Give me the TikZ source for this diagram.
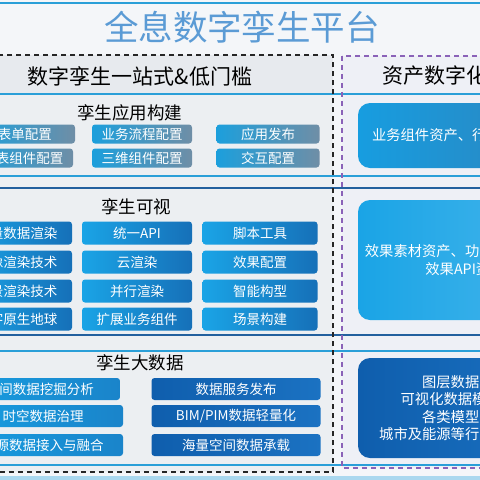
\documentclass[tikz,border=0pt]{standalone}
\usepackage{fontspec}
\setmainfont{Noto Sans CJK SC}
\usetikzlibrary{positioning}

\definecolor{titleblue}{HTML}{5B9BD5}
\definecolor{lineblue}{HTML}{2A9FD8}
\definecolor{linedark}{HTML}{22609E}
\definecolor{pagebg}{HTML}{F4F6F9}
\definecolor{panelbg}{HTML}{ECEFF2}
\definecolor{headbg}{HTML}{E7EAEE}
\definecolor{assetbg}{HTML}{EEF0F6}
\definecolor{dashpurple}{HTML}{8A62B8}
\definecolor{cyanA}{HTML}{1C9FDC}
\definecolor{slateA}{HTML}{6F8EA6}
\definecolor{cyanB}{HTML}{1AA4E6}
\definecolor{blueB}{HTML}{1670B8}
\definecolor{cyanC}{HTML}{179DE0}
\definecolor{blueC}{HTML}{1A84CA}
\definecolor{darkC}{HTML}{0F5EAD}
\definecolor{darkD}{HTML}{1B72C2}

\begin{document}
\begin{tikzpicture}[x=1pt, y=-1pt,
  btn/.style={rounded corners=3pt, inner sep=0pt, text=white, font=\fontsize{13.5}{15}\selectfont},
  appbtn/.style={btn, left color=cyanA, right color=slateA, minimum height=19pt},
  visbtn/.style={btn, left color=cyanB, right color=blueB, minimum height=23pt},
  databtn/.style={btn, left color=cyanC, right color=blueC, minimum height=22pt, minimum width=160pt},
  darkbtn/.style={btn, left color=darkC, right color=darkD, minimum height=22pt, minimum width=169pt},
  asset/.style={rounded corners=12pt, minimum width=214pt, inner sep=0pt, text=white, align=center, font=\fontsize{14.3}{17.5}\selectfont},
  sectitle/.style={font=\fontsize{17.5}{20}\selectfont},
  headtitle/.style={font=\fontsize{21}{24}\selectfont},
  bar/.style={line width=2pt, draw=lineblue},
  darkbar/.style={line width=2pt, draw=linedark},
  blackdash/.style={draw=black!85, line width=1.3pt, dash pattern=on 5pt off 4pt},
  purpledash/.style={draw=dashpurple, line width=1.3pt, dash pattern=on 5pt off 4pt},
]
  \useasboundingbox (0,0) rectangle (480,480);
  \clip (0,0) rectangle (480,480);

  % Backgrounds
  \fill[pagebg] (0,0) rectangle (480,480);
  \fill[headbg] (-60,55) rectangle (333,94);
  \fill[panelbg] (-60,94) rectangle (333,472);
  \fill[assetbg] (342,56) rectangle (560,468);
  \fill[lineblue!40] (0,476) rectangle (480,480);

  % Band lines
  \draw[bar] (0,3) -- (480,3);
  \draw[bar] (0,94) -- (480,94);
  \draw[bar] (0,176) -- (480,176);
  \draw[darkbar] (0,188) -- (480,188);
  \draw[darkbar] (0,335) -- (480,335);
  \draw[bar] (0,351) -- (480,351);
  \draw[bar] (0,465) -- (480,465);

  % Dashed frames
  \draw[blackdash] (-60,55) rectangle (333,472);
  \draw[purpledash] (342,56) rectangle (560,468);

  % Titles
  \node[text=titleblue, font=\fontsize{34.5}{38}\selectfont] (title) at (242,27) {全息数字孪生平台};
  \node[headtitle] (lowcode) at (140,76) {数字孪生一站式\&低门槛};
  \node[headtitle, anchor=west] (assets) at (379,76) {资产数字化};

  % Twin application building
  \node[sectitle] (app) at (130,113) {孪生应用构建};
  \node[appbtn, minimum width=100pt] (app11) at (25,134) {表单配置};
  \node[appbtn, minimum width=100pt] (app12) at (142,134) {业务流程配置};
  \node[appbtn, minimum width=103pt] (app13) at (268,134) {应用发布};
  \node[appbtn, minimum width=100pt] (app21) at (23,158) {图表组件配置};
  \node[appbtn, minimum width=100pt] (app22) at (142,158) {三维组件配置};
  \node[appbtn, minimum width=103pt] (app23) at (268,158) {交互配置};

  % Twin visualisation
  \node[sectitle] (vis) at (136,207) {孪生可视};
  \node[visbtn, minimum width=110pt] (vis11) at (17,233) {海量数据渲染};
  \node[visbtn, minimum width=110pt] (vis12) at (137,233) {统一API};
  \node[visbtn, minimum width=115pt] (vis13) at (260,233) {脚本工具};
  \node[visbtn, minimum width=110pt] (vis21) at (17,262) {影像渲染技术};
  \node[visbtn, minimum width=110pt] (vis22) at (137,262) {云渲染};
  \node[visbtn, minimum width=115pt] (vis23) at (260,262) {效果配置};
  \node[visbtn, minimum width=110pt] (vis31) at (17,291) {全景渲染技术};
  \node[visbtn, minimum width=110pt] (vis32) at (137,291) {并行渲染};
  \node[visbtn, minimum width=115pt] (vis33) at (260,291) {智能构型};
  \node[visbtn, minimum width=110pt] (vis41) at (17,319) {数字原生地球};
  \node[visbtn, minimum width=110pt] (vis42) at (137,319) {扩展业务组件};
  \node[visbtn, minimum width=115pt] (vis43) at (260,319) {场景构建};

  % Twin big data
  \node[sectitle] (data) at (140,363) {孪生大数据};
  \node[databtn] (data11) at (40,389) {空间数据挖掘分析};
  \node[darkbtn] (data12) at (236,389) {数据服务发布};
  \node[databtn] (data21) at (43,416) {时空数据治理};
  \node[darkbtn] (data22) at (236,416) {BIM/PIM数据轻量化};
  \node[databtn] (data31) at (43,445) {多源数据接入与融合};
  \node[darkbtn] (data32) at (236,445) {海量空间数据承载};

  % Asset column
  \node[asset, left color=cyanC, right color=blueC!80!gray, minimum height=65pt] (asset1) at (465,135.5) {业务组件资产、行业模板资产};
  \node[asset, left color=cyanB, right color=cyanB!80!white, minimum height=120pt] (asset2) at (465,260) {效果素材资产、功能插件资产、\\效果API资产};
  \node[asset, left color=darkC, right color=darkD, minimum height=100pt] (asset3) at (465,408) {图层数据资产\\可视化数据模型资产\\各类模型资产\\城市及能源等行业模板资产};
\end{tikzpicture}
\end{document}
